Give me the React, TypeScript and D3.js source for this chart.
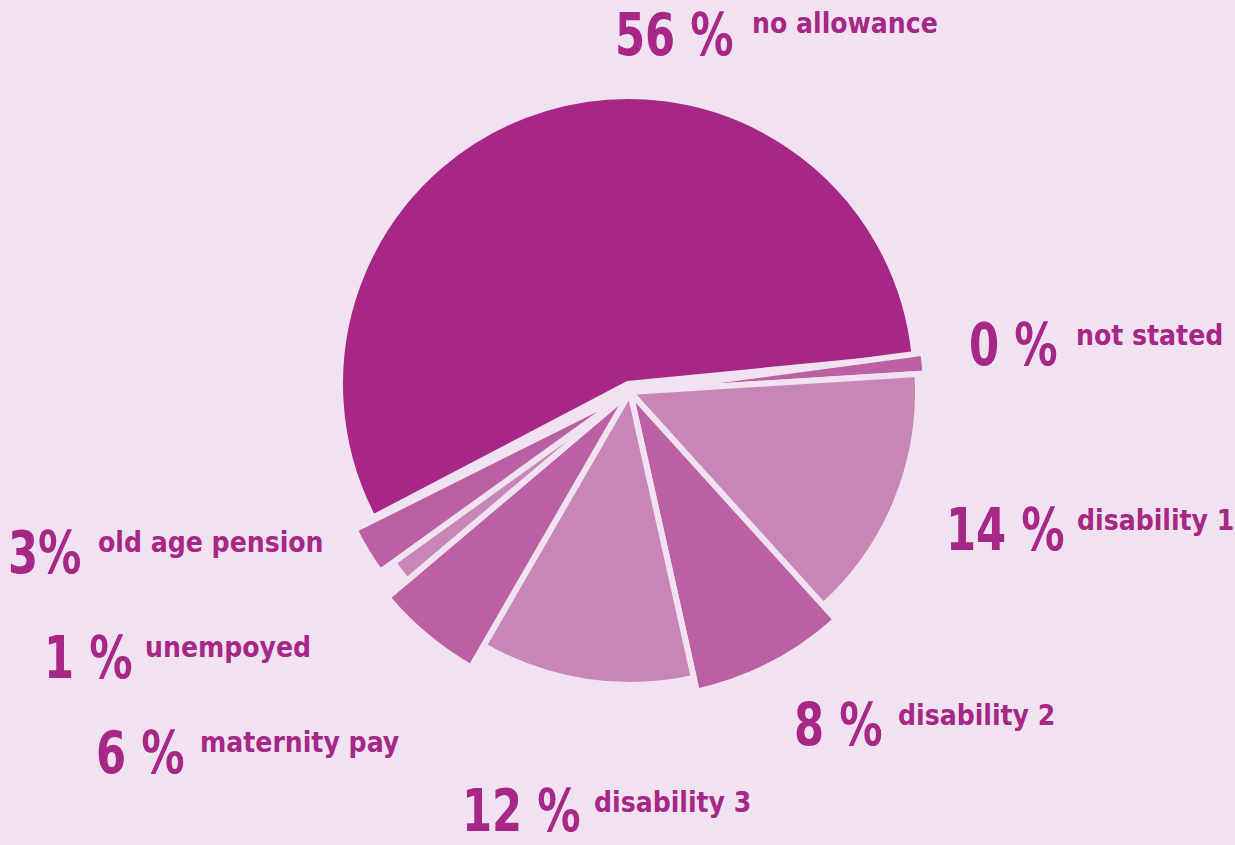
import React from "react";
import * as d3 from "d3";

// ---- data ----
const categories = [
  "no allowance",
  "not stated",
  "disability 1",
  "disability 2",
  "disability 3",
  "maternity pay",
  "unempoyed",
  "old age pension",
];
const shares = [55.26, 1.11, 14.29, 8.21, 11.83, 5.49, 1.25, 2.55];
const percentLabels = ["56 %", "0 %", "14 %", "8 %", "12 %", "6 %", "1 %", "3%"];

// ---- styles / layout ----
const W = 1235;
const H = 845;
const BG = "#F1E2F1";
const TEXT = "#A62785";
const sliceColors = ["#A62785", "#BB61A3", "#C886B8", "#BB61A3", "#C886B8", "#BB61A3", "#C886B8", "#BB61A3"];
const outerRadii = [288, 296, 288, 307, 293, 318, 292, 308];
// per-slice vertex offset (the big slice is pulled out) and angular overlap in degrees [before, after]
const sliceOffsets: [number, number][] = [[-2, -8], [0, 0], [0, 0], [0, 0], [0, 0], [0, 0], [0, 0], [0, 0]];
const sliceOverlapDeg: [number, number][] = [[1.1, 2.0], [0, 0], [0, 0], [0, 0], [0, 0], [0, 0], [0, 0], [0, 0]];
const CX = 630;
const CY = 392;
const START_DEG = -116.55;
const GAP = 6;

// [percent x, percent baseline, label x, label baseline]
const labelPos: [number, number, number, number][] = [
  [615, 55, 752, 33],
  [969, 365, 1076, 345],
  [946, 550, 1077, 530],
  [794, 745, 898, 725],
  [462, 831, 594, 812],
  [96, 773, 200, 752],
  [44, 678, 145, 657],
  [8, 573, 98, 552],
];

const FONT = "'DejaVu Sans Condensed', 'DejaVu Sans', sans-serif";
const PCT_SCALE_X = 0.83;

export default function App() {
  const rad = Math.PI / 180;
  const pie = d3
    .pie<number>()
    .sort(null)
    .startAngle(START_DEG * rad)
    .endAngle(START_DEG * rad + 2 * Math.PI);
  const arcs = pie(shares);

  return (
    <svg width={W} height={H} style={{ position: "absolute", left: 0, top: 0 }}>
      <rect x={0} y={0} width={W} height={H} fill={BG} />
      <g transform={`translate(${CX},${CY})`}>
        {arcs.map((a, i) => {
          const [ob, oa] = sliceOverlapDeg[i];
          const path =
            d3
              .arc<any>()
              .innerRadius(0)
              .outerRadius(outerRadii[i])({
                startAngle: a.startAngle - ob * rad,
                endAngle: a.endAngle + oa * rad,
              }) || "";
          const [dx, dy] = sliceOffsets[i];
          return (
            <path
              key={categories[i]}
              d={path}
              transform={`translate(${dx},${dy})`}
              fill={sliceColors[i]}
              stroke={BG}
              strokeWidth={GAP}
              strokeLinejoin="miter"
            />
          );
        })}
      </g>
      {categories.map((c, i) => {
        const [px, py, lx, ly] = labelPos[i];
        return (
          <g key={c} fill={TEXT} fontFamily={FONT} fontWeight="bold">
            <text transform={`translate(${px},${py}) scale(${PCT_SCALE_X},1)`} fontSize={58}>
              {percentLabels[i]}
            </text>
            <text x={lx} y={ly} fontSize={28}>
              {c}
            </text>
          </g>
        );
      })}
    </svg>
  );
}
